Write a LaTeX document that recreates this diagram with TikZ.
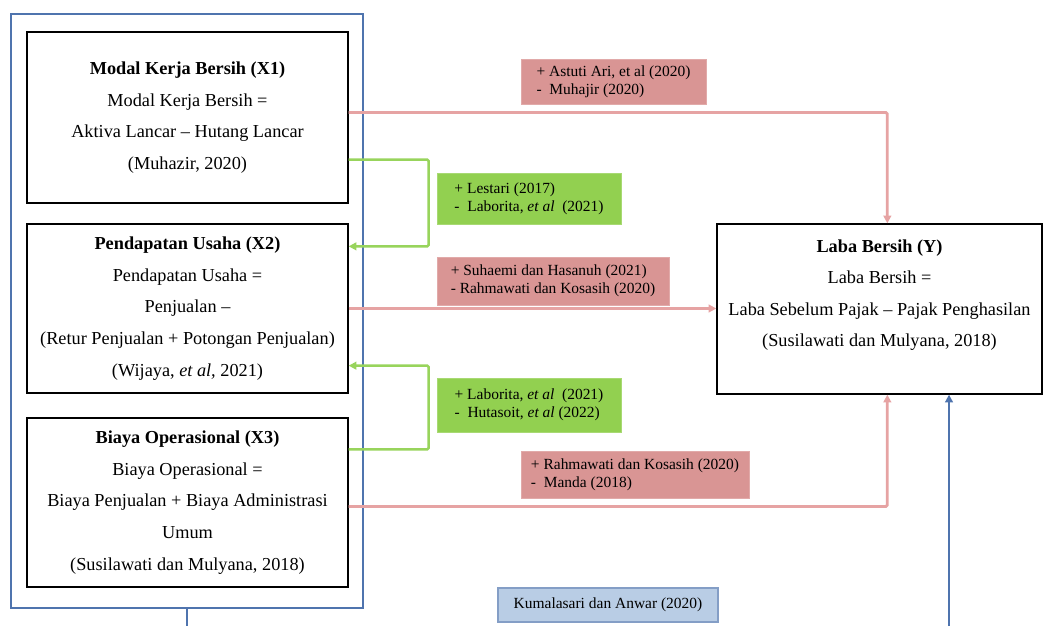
\documentclass[tikz,border=0pt]{standalone}
\usepackage{fontspec}
\setmainfont{Liberation Serif}
\usepackage{tikz}
\usetikzlibrary{arrows.meta,calc}

\definecolor{garisMerah}{HTML}{E6A3A3}
\definecolor{isiMerah}{HTML}{D99594}
\definecolor{garisHijau}{HTML}{98D45C}
\definecolor{isiHijau}{HTML}{92D050}
\definecolor{garisBiru}{HTML}{4F74AE}
\definecolor{isiBiru}{HTML}{B9CDE5}

\begin{document}
\begin{tikzpicture}[x=0.025cm, y=-0.025cm,
    var/.style={draw, line width=0.9pt, align=center, inner sep=0pt,
        font=\fontsize{13}{22.5}\selectfont},
    ket/.style={align=left, inner sep=0pt, font=\fontsize{11}{13}\selectfont},
    merah/.style={ket, fill=isiMerah, draw=isiMerah!80!white},
    hijau/.style={ket, fill=isiHijau, draw=isiHijau!80!white},
    panahMerah/.style={draw=garisMerah, line width=2pt, rounded corners=1pt,
        -{Triangle[length=5.5pt,width=5.5pt]}},
    panahHijau/.style={draw=garisHijau, line width=1.7pt, rounded corners=1pt,
        -{Triangle[length=5.5pt,width=5.5pt]}},
  ]
    \useasboundingbox (0,0) rectangle (1043,626);

    % kotak luar variabel X
    \node[draw=garisBiru, line width=2pt, minimum width=88mm, minimum height=148.5mm,
          inner sep=0pt] (grup) at (187, 311) {};

    \node[var, minimum width=80.25mm, minimum height=42.75mm] (X1) at (187.5, 117.5)
        {\textbf{Modal Kerja Bersih (X1)}\\ Modal Kerja Bersih =\\
         Aktiva Lancar -- Hutang Lancar\\ (Muhazir, 2020)};
    \node[var, minimum width=80.25mm, minimum height=42.25mm] (X2) at (187.5, 308.5)
        {\textbf{Pendapatan Usaha (X2)}\\ Pendapatan Usaha =\\ Penjualan --\\
         (Retur Penjualan + Potongan Penjualan)\\ (Wijaya, \textit{et al,} 2021)};
    \node[var, minimum width=80.25mm, minimum height=42.25mm] (X3) at (187.5, 502.5)
        {\textbf{Biaya Operasional (X3)}\\ Biaya Operasional =\\
         Biaya Penjualan + Biaya Administrasi\\ Umum\\ (Susilawati dan Mulyana, 2018)};
    \node[var, minimum width=81.25mm, minimum height=42.5mm] (Y) at (879.5, 309)
        {\textbf{Laba Bersih (Y)}\\ Laba Bersih =\\
         Laba Sebelum Pajak -- Pajak Penghasilan\\ (Susilawati dan Mulyana, 2018)\\ \mbox{}};

    % keterangan penelitian terdahulu
    \node[merah, minimum width=46.25mm, minimum height=11.25mm] (k1) at (613.5, 81.5)
        {+ Astuti Ari, et al (2020)\\ -\enspace Muhajir (2020)};
    \node[hijau, minimum width=46mm, minimum height=12.75mm] (k2) at (529, 198.5)
        {+ Lestari (2017)\\ -\enspace Laborita, \textit{et al}\enspace(2021)};
    \node[merah, minimum width=58mm, minimum height=12mm] (k3) at (553, 281)
        {+ Suhaemi dan Hasanuh (2021)\\ - Rahmawati dan Kosasih (2020)};
    \node[hijau, minimum width=46mm, minimum height=13.5mm] (k4) at (529, 405)
        {+ Laborita, \textit{et al}\enspace(2021)\\ -\enspace Hutasoit, \textit{et al} (2022)};
    \node[merah, minimum width=57mm, minimum height=11.75mm] (k5) at (635, 474.5)
        {+ Rahmawati dan Kosasih (2020)\\ -\enspace Manda (2018)};
    \node[ket, fill=isiBiru, draw=garisBiru!70!white, line width=0.8pt,
          minimum width=55mm, minimum height=8.5mm] (k6) at (608, 605)
        {Kumalasari dan Anwar (2020)};

    \coordinate (bawahX) at (187, 626);
    \coordinate (bawahY) at (949, 626);

    % panah ke Y
    \draw[panahMerah] ($(X1.east)+(0,-5)$) -| ($(Y.north west)+(171,0)$);
    \draw[panahMerah] (X2.east) -- (X2.east -| Y.west);
    \draw[panahMerah] ($(X3.east)+(0,4)$) -| ($(Y.south west)+(171,0)$);
    % panah antar variabel X
    \draw[panahHijau] ($(X1.south east)+(0,-44)$) -- ++(80,0)
        |- ($(X2.north east)+(0,23)$);
    \draw[panahHijau] ($(X3.north east)+(0,32)$) -- ++(80,0)
        |- ($(X2.south east)+(0,-28)$);
    % garis biru bawah
    \draw[garisBiru, line width=2pt] (grup.south) -- (bawahX);
    \draw[garisBiru, line width=2pt, -{Triangle[length=5.5pt,width=5.5pt]}]
        (bawahY) -- (bawahY |- Y.south);
\end{tikzpicture}
\end{document}
